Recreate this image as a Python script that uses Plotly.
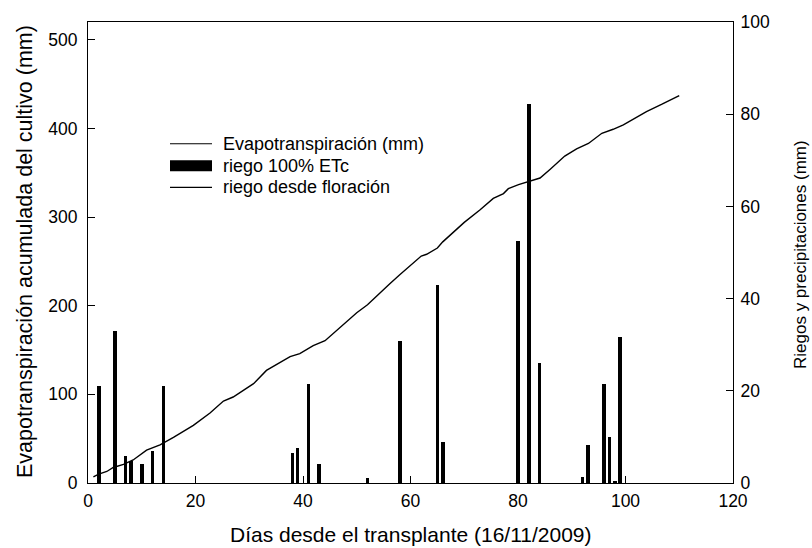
import plotly.graph_objects as go

# ---- data ----
et_days = [1, 2, 3.5, 4.7, 6.6, 8.4, 10.9, 13.4, 15.9, 17.5, 19.6, 22.7, 25.2, 27, 30.8, 33.2,
           35.7, 37.6, 39.4, 41.9, 44.1, 46, 48, 50, 52, 54, 56, 58, 60, 62, 63, 64, 65, 66,
           68, 70, 72.9, 75.4, 77.3, 78.2, 80.1, 82.1, 84.1, 86, 88.7, 90.9, 93.1, 95.6,
           97.7, 99.6, 101.8, 103.9, 106.7, 108, 110]
et_mm = [7, 10, 13, 17.5, 21, 26, 37, 43, 51.5, 57, 65, 79, 92.5, 97, 112, 127,
         136, 142.5, 146, 155, 160.5, 171, 182, 192, 201, 213, 224, 235, 246, 256, 258, 262, 265, 272,
         283, 294, 308, 321, 326.5, 332, 336.6, 340.4, 344, 354, 368.8, 377, 383, 394.5,
         399, 404, 412, 419, 427, 431, 437]

riego_days = [2, 5, 7, 8, 10, 12, 14, 38, 39, 41, 43, 52, 58, 65, 66, 80, 82, 84, 92, 93, 96, 97, 98, 99]
riego_mm = [21, 33, 5.8, 4.7, 4.1, 7.0, 21.0, 6.5, 7.6, 21.4, 4.1, 1.0, 30.7, 43, 9.0,
            52.5, 82.2, 26.0, 1.3, 8.3, 21.5, 10.0, 0.5, 31.6]

x_ticks = [0, 20, 40, 60, 80, 100, 120]
y_ticks = [0, 100, 200, 300, 400, 500]
y2_ticks = [0, 20, 40, 60, 80, 100]

legend_labels = ["Evapotranspiración (mm)", "riego 100% ETc", "riego desde floración"]

# ---- layout geometry ----
W, H = 812, 548
L, R, T, B = 88, 79, 20, 65
PW, PH = W - L - R, H - T - B
FONT = "Arial, Liberation Sans, sans-serif"


def px(xp):
    return (xp - L) / PW


def py(yp):
    return (H - B - yp) / PH


fig = go.Figure()
fig.add_trace(go.Bar(x=riego_days, y=riego_mm, width=0.65, yaxis="y2",
                     marker=dict(color="black", line=dict(width=0)), showlegend=False))
fig.add_trace(go.Scatter(x=et_days, y=et_mm, mode="lines", yaxis="y",
                         line=dict(color="black", width=1.4), showlegend=False))

axis_common = dict(showgrid=False, zeroline=False, showline=True, linecolor="black", linewidth=1,
                   ticks="inside", ticklen=7, tickwidth=1, tickcolor="black",
                   tickfont=dict(family=FONT, size=17.5, color="black"))

fig.update_layout(
    width=W, height=H, margin=dict(l=L, r=R, t=T, b=B),
    paper_bgcolor="white", plot_bgcolor="white",
    font=dict(family=FONT, color="black"),
    showlegend=False, bargap=0,
    xaxis=dict(range=[0, 120], tickvals=x_ticks, mirror=True, ticklabelstandoff=2, **axis_common),
    yaxis=dict(range=[0, 520], tickvals=y_ticks, ticklabelstandoff=6, **axis_common),
    yaxis2=dict(range=[0, 100], tickvals=y2_ticks, overlaying="y", side="right",
                ticklabelstandoff=3, **axis_common),
)

ann = []
ann.append(dict(text="Días desde el transplante (16/11/2009)", x=0.5, y=py(535), xref="paper", yref="paper",
                showarrow=False, font=dict(family=FONT, size=21, color="black"), xanchor="center", yanchor="middle"))
ann.append(dict(text="Evapotranspiración acumulada del cultivo (mm)", x=px(25), y=py(251), xref="paper",
                yref="paper", showarrow=False, textangle=-90,
                font=dict(family=FONT, size=21.5, color="black"), xanchor="center", yanchor="middle"))
ann.append(dict(text="Riegos y precipitaciones (mm)", x=px(801), y=py(254), xref="paper", yref="paper",
                showarrow=False, textangle=-90,
                font=dict(family=FONT, size=17, color="black"), xanchor="center", yanchor="middle"))

# manual legend
rows = [142.3, 164.3, 186.0]
shapes = []
shapes.append(dict(type="line", xref="paper", yref="paper", x0=px(170), x1=px(212), y0=py(rows[0]), y1=py(rows[0]),
                   line=dict(color="black", width=1.2)))
shapes.append(dict(type="rect", xref="paper", yref="paper", x0=px(170), x1=px(212), y0=py(rows[1] - 5.5),
                   y1=py(rows[1] + 5.5), line=dict(width=0), fillcolor="black"))
shapes.append(dict(type="line", xref="paper", yref="paper", x0=px(170), x1=px(212), y0=py(rows[2]), y1=py(rows[2]),
                   line=dict(color="black", width=1.2)))
for lab, r in zip(legend_labels, rows):
    ann.append(dict(text=lab, x=px(221), y=py(r), xref="paper", yref="paper", showarrow=False,
                    xanchor="left", yanchor="middle", font=dict(family=FONT, size=18, color="black")))

fig.update_layout(annotations=ann, shapes=shapes)
fig.write_html("out.html", config={"displayModeBar": False},
               post_script="document.body.style.margin='0px';document.body.style.overflow='hidden';")
